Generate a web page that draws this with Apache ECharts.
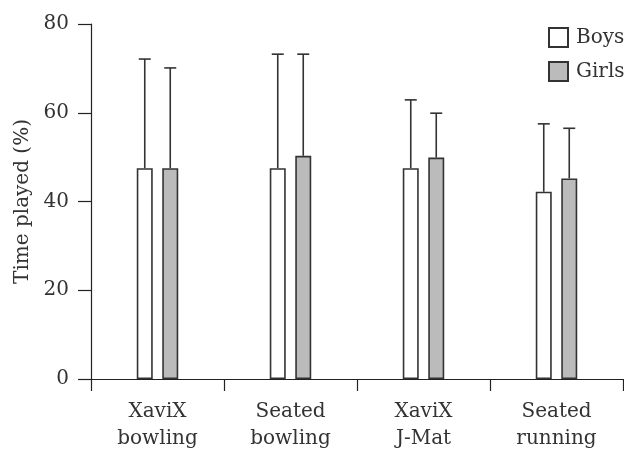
<!DOCTYPE html>
<html>
<head>
<meta charset="utf-8">
<script src="https://cdn.jsdelivr.net/npm/echarts@6/dist/echarts.min.js"></script>
<style>html,body{margin:0;padding:0;background:#fff}#c{width:624px;height:449px}</style>
</head>
<body>
<div id="c"></div>
<script>
var categories = ['XaviX\nbowling', 'Seated\nbowling', 'XaviX\nJ-Mat', 'Seated\nrunning'];
var boysMean = [47.5, 47.5, 47.5, 42.2];
var boysUpper = [72.1, 73.2, 62.9, 57.5];
var girlsMean = [47.5, 50.3, 49.9, 45.2];
var girlsUpper = [70.1, 73.2, 59.9, 56.5];
var yTicks = [0, 20, 40, 60, 80];

var FONT = 'DejaVu Serif';
var FS = 20;
var BAR_W = 16, GAP = 9.5;
var off = (BAR_W + GAP) / 2;

function errSeries(name, upper, means, sign) {
  return {
    type: 'custom', name: name + ' err', z: 1,
    data: upper.map(function (u, i) { return [i, means[i], u]; }),
    renderItem: function (params, api) {
      var base = api.coord([api.value(0), api.value(1)]);
      var top = api.coord([api.value(0), api.value(2)]);
      var x = base[0] + sign * off;
      return {
        type: 'group',
        children: [
          { type: 'line', shape: { x1: x, y1: base[1], x2: x, y2: top[1] }, style: { stroke: '#333', lineWidth: 1.6 } },
          { type: 'line', shape: { x1: x - 6, y1: top[1], x2: x + 6, y2: top[1] }, style: { stroke: '#333', lineWidth: 1.6 } }
        ]
      };
    },
    silent: true
  };
}

var chart = echarts.init(document.getElementById('c'), null, { renderer: 'canvas' });
chart.setOption({
  animation: false,
  textStyle: { fontFamily: FONT },
  grid: { left: 91, right: 1, top: 24, bottom: 70, containLabel: false, outerBoundsMode: 'none' },
  legend: {
    left: 543, top: 22, orient: 'vertical', itemWidth: 19, itemHeight: 19, itemGap: 13,
    icon: 'rect',
    textStyle: { fontFamily: FONT, fontSize: FS, color: '#333', padding: [0, 0, 0, 3] },
    data: ['Boys', 'Girls']
  },
  xAxis: {
    type: 'category', data: categories,
    axisLine: { lineStyle: { color: '#222', width: 1.2 } },
    axisTick: { show: true, length: 12, lineStyle: { color: '#222', width: 1.2 } },
    axisLabel: { fontFamily: FONT, fontSize: FS, color: '#333', margin: 19, lineHeight: 27 }
  },
  yAxis: {
    type: 'value', min: yTicks[0], max: yTicks[yTicks.length - 1], interval: 20,
    name: 'Time played (%)', nameLocation: 'middle', nameGap: 58,
    nameTextStyle: { fontFamily: FONT, fontSize: FS, color: '#333' },
    axisLine: { show: true, lineStyle: { color: '#222', width: 1.2 } },
    axisTick: { show: true, length: 13, lineStyle: { color: '#222', width: 1.2 } },
    axisLabel: { fontFamily: FONT, fontSize: FS, color: '#333', margin: 22 },
    splitLine: { show: false }
  },
  series: [
    errSeries('Boys', boysUpper, boysMean, -1),
    errSeries('Girls', girlsUpper, girlsMean, 1),
    {
      name: 'Boys', type: 'bar', data: boysMean, barWidth: BAR_W, barGap: (GAP / BAR_W * 100) + '%', z: 2,
      itemStyle: { color: '#ffffff', borderColor: '#333', borderWidth: 1.6 }
    },
    {
      name: 'Girls', type: 'bar', data: girlsMean, barWidth: BAR_W, z: 2,
      itemStyle: { color: '#bbbbbb', borderColor: '#333', borderWidth: 1.6 }
    }
  ]
});
</script>
</body>
</html>
